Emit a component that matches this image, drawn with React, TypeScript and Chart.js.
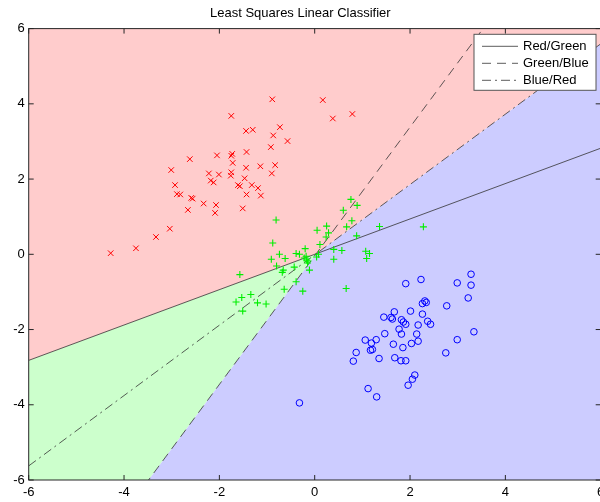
import React, { useEffect, useRef } from 'react';
import { Chart, registerables } from 'chart.js';
Chart.register(...registerables);

const chartTitle = 'Least Squares Linear Classifier';
const axisMin = -6;
const axisMax = 6;
const axisTicks = [-6, -4, -2, 0, 2, 4, 6];

const redX = [-4.28, -3.75, -3.33, -3.04, -2.66, -2.93, -3.01, -2.62, -2.05, -2.22, -2.01, -2.18, -2.12, -2.89, -2.82, -2.59, -2.56, -2.33, -2.07, -2.09, -0.89, 0.17, 0.38, 0.79, -1.75, -0.73, -1.44, -1.30, -0.87, -0.57, -0.92, -1.43, -1.73, -1.75, -1.72, -1.14, -0.83, -1.44, -0.90, -1.75, -1.76, -1.47, -1.32, -1.19, -1.61, -1.57, -1.43, -1.13, -1.51];
const redY = [0.03, 0.16, 0.46, 0.68, 1.18, 1.84, 2.24, 2.53, 2.63, 2.15, 2.12, 1.96, 1.91, 1.60, 1.59, 1.50, 1.48, 1.35, 1.31, 1.10, 4.12, 4.10, 3.61, 3.73, 3.68, 3.38, 3.28, 3.31, 3.16, 3.01, 2.85, 2.72, 2.67, 2.62, 2.43, 2.34, 2.37, 2.30, 2.15, 2.18, 2.09, 2.02, 1.84, 1.76, 1.84, 1.81, 1.59, 1.56, 1.22];

const greenX = [-0.81, -0.88, -0.74, -0.91, -0.62, -0.80, -0.66, -0.68, -0.43, -0.39, -0.32, -0.20, -0.18, -0.17, -0.15, -0.11, -0.39, -0.64, -0.25, -1.57, -1.34, -1.53, -1.65, -1.20, -1.02, -1.51, 0.05, 0.25, 0.29, 0.24, 0.11, 0.08, 0.04, 0.60, 0.67, 0.40, 0.57, 0.40, 0.66, 0.76, 0.89, 0.78, 0.88, 1.36, 2.28, 1.07, 1.15, 1.09, -0.22, -0.14];
const greenY = [0.91, 0.30, 0.00, -0.13, -0.11, -0.31, -0.42, -0.48, -0.34, 0.02, 0.00, 0.15, -0.05, -0.15, -0.23, -0.42, -0.73, -0.93, -0.98, -0.54, -1.07, -1.15, -1.27, -1.29, -1.32, -1.51, 0.64, 0.75, 0.57, 0.46, 0.26, 0.00, -0.07, 1.17, 0.73, 0.13, 0.10, -0.13, -0.91, 1.46, 1.30, 0.89, 0.49, 0.74, 0.73, 0.08, 0.02, -0.11, -0.10, -0.18];

const blueX = [1.45, 1.47, 1.29, 1.06, 1.19, 1.21, 1.17, 1.35, 0.87, 0.81, 1.12, 1.30, -0.32, 2.23, 1.91, 3.28, 2.99, 3.28, 3.22, 2.77, 2.31, 2.26, 2.34, 2.01, 2.26, 1.67, 1.63, 1.60, 1.82, 1.86, 1.91, 2.37, 2.43, 2.17, 1.77, 1.82, 2.14, 2.17, 2.03, 1.65, 1.85, 3.34, 2.99, 2.75, 1.68, 1.81, 1.91, 2.10, 2.05, 1.96];
const blueY = [-1.67, -2.11, -2.27, -2.28, -2.36, -2.53, -2.55, -2.77, -2.61, -2.84, -3.57, -3.79, -3.95, -0.67, -0.78, -0.53, -0.76, -0.82, -1.16, -1.37, -1.24, -1.31, -1.28, -1.51, -1.59, -1.53, -1.72, -1.68, -1.74, -1.80, -1.86, -1.78, -1.86, -1.88, -1.99, -2.12, -2.12, -2.31, -2.37, -2.39, -2.48, -2.06, -2.27, -2.62, -2.75, -2.83, -2.83, -3.21, -3.32, -3.48];

// decision boundaries y = slope * x + intercept
const boundaryLabels = ['Red/Green', 'Green/Blue', 'Blue/Red'];
const boundarySlopes = [0.47, 1.71, 0.935];
const boundaryIntercepts = [0.0, -0.04, -0.015];

const FONT = "'Liberation Sans', Arial, Helvetica, sans-serif";

const pts = (xs: number[], ys: number[]) => xs.map((x, i) => ({ x, y: ys[i] }));
const lineY = (i: number, x: number) => boundarySlopes[i] * x + boundaryIntercepts[i];

export default function App() {
  const ref = useRef<HTMLCanvasElement>(null);
  useEffect(() => {
    if (!ref.current) return;
    // common intersection point of the boundaries
    const x0 = (boundaryIntercepts[1] - boundaryIntercepts[0]) / (boundarySlopes[0] - boundarySlopes[1]);
    const y0 = lineY(0, x0);
    const upper = [{ x: axisMin, y: lineY(0, axisMin) }, { x: x0, y: y0 }, { x: axisMax, y: lineY(2, axisMax) }];
    const lower = [{ x: axisMin, y: lineY(1, axisMin) }, { x: x0, y: y0 }, { x: axisMax, y: lineY(2, axisMax) }];
    const dashes = [[], [9, 6], [9, 4, 2, 4]];
    const lineColor = '#333333';

    const boundaryDatasets = boundaryLabels.map((label, i) => ({
      type: 'line' as const,
      label,
      data: [{ x: axisMin, y: lineY(i, axisMin) }, { x: axisMax, y: lineY(i, axisMax) }],
      borderColor: lineColor,
      borderWidth: 0.8,
      borderDash: dashes[i],
      pointRadius: 0,
      fill: false,
      order: 5,
    }));

    const framePlugin = {
      id: 'frame',
      afterDatasetsDraw(chart: any) {
        const { ctx, chartArea: a, scales } = chart;
        ctx.save();
        ctx.strokeStyle = '#262626';
        ctx.lineWidth = 1;
        ctx.strokeRect(a.left, a.top, a.right - a.left, a.bottom - a.top);
        const tl = 5;
        ctx.beginPath();
        axisTicks.forEach((v) => {
          const px = scales.x.getPixelForValue(v);
          ctx.moveTo(px, a.bottom); ctx.lineTo(px, a.bottom - tl);
          ctx.moveTo(px, a.top); ctx.lineTo(px, a.top + tl);
          const py = scales.y.getPixelForValue(v);
          ctx.moveTo(a.left, py); ctx.lineTo(a.left + tl, py);
          ctx.moveTo(a.right, py); ctx.lineTo(a.right - tl, py);
        });
        ctx.stroke();

        // legend box
        const w = 122, h = 56;
        const lx = a.right - 4.7 - w;
        const ly = a.top + 5.7;
        ctx.fillStyle = '#ffffff';
        ctx.fillRect(lx, ly, w, h);
        ctx.strokeStyle = '#555555';
        ctx.strokeRect(lx, ly, w, h);
        ctx.font = `13px ${FONT}`;
        ctx.textBaseline = 'middle';
        ctx.textAlign = 'left';
        boundaryLabels.forEach((label, i) => {
          const yy = ly + 12 + i * 17;
          ctx.strokeStyle = lineColor;
          ctx.lineWidth = 0.8;
          ctx.setLineDash(dashes[i]);
          ctx.beginPath();
          ctx.moveTo(lx + 8, yy);
          ctx.lineTo(lx + 44, yy);
          ctx.stroke();
          ctx.setLineDash([]);
          ctx.fillStyle = '#000';
          ctx.fillText(label, lx + 49, yy);
        });
        ctx.restore();
      },
    };

    const chart = new Chart(ref.current, {
      type: 'scatter',
      data: {
        datasets: [
          {
            type: 'scatter', label: 'Red', data: pts(redX, redY), pointStyle: 'crossRot', pointRadius: 3.9,
            borderColor: '#ff0000', backgroundColor: '#ff0000', borderWidth: 1, order: 0,
          },
          {
            type: 'scatter', label: 'Green', data: pts(greenX, greenY), pointStyle: 'cross', pointRadius: 3.5,
            borderColor: '#00ee00', backgroundColor: '#00ee00', borderWidth: 1.1, order: 0,
          },
          {
            type: 'scatter', label: 'Blue', data: pts(blueX, blueY), pointStyle: 'circle', pointRadius: 3.3,
            borderColor: '#0000ff', backgroundColor: 'rgba(0,0,0,0)', borderWidth: 1, order: 0,
          },
          ...boundaryDatasets,
          {
            type: 'line', label: 'red region', data: upper, borderWidth: 0, pointRadius: 0,
            backgroundColor: 'rgb(255,204,204)', fill: 'end', order: 10,
          },
          {
            type: 'line', label: 'blue region', data: lower, borderWidth: 0, pointRadius: 0,
            backgroundColor: 'rgb(204,204,255)', fill: 'start', order: 10,
          },
          {
            type: 'line', label: 'green region', data: upper, borderWidth: 0, pointRadius: 0,
            backgroundColor: 'rgb(204,255,204)', fill: '-1', order: 10,
          },
        ] as any,
      },
      options: {
        responsive: false,
        animation: false,
        events: [],
        layout: { padding: { left: 0, right: 15.3, top: 0, bottom: 0 } },
        plugins: {
          legend: { display: false },
          tooltip: { enabled: false },
          filler: { drawTime: 'beforeDatasetsDraw' },
          title: {
            display: true,
            text: chartTitle,
            color: '#000',
            font: { family: FONT, size: 13, weight: 'normal' },
            padding: { top: 6, bottom: 7 },
          },
        },
        scales: {
          x: {
            type: 'linear',
            min: axisMin,
            max: axisMax,
            grid: { display: false, drawTicks: false },
            border: { display: false },
            afterBuildTicks: (s: any) => { s.ticks = axisTicks.map((v) => ({ value: v })); },
            afterFit: (s: any) => { s.height = 22; },
            ticks: { color: '#000', font: { family: FONT, size: 13 }, padding: 5, maxRotation: 0, autoSkip: false },
          },
          y: {
            type: 'linear',
            min: axisMin,
            max: axisMax,
            grid: { display: false, drawTicks: false },
            border: { display: false },
            afterBuildTicks: (s: any) => { s.ticks = axisTicks.map((v) => ({ value: v })); },
            afterFit: (s: any) => { s.width = 28.7; },
            ticks: { color: '#000', font: { family: FONT, size: 13 }, padding: 4, autoSkip: false },
          },
        },
      } as any,
      plugins: [framePlugin],
    });
    return () => chart.destroy();
  }, []);

  return (
    <div style={{ position: 'fixed', left: 0, top: 0, width: 600, height: 502, overflow: 'hidden', background: '#fff' }}>
      <canvas ref={ref} width={616} height={502} style={{ display: 'block', width: 616, height: 502 }} />
    </div>
  );
}
